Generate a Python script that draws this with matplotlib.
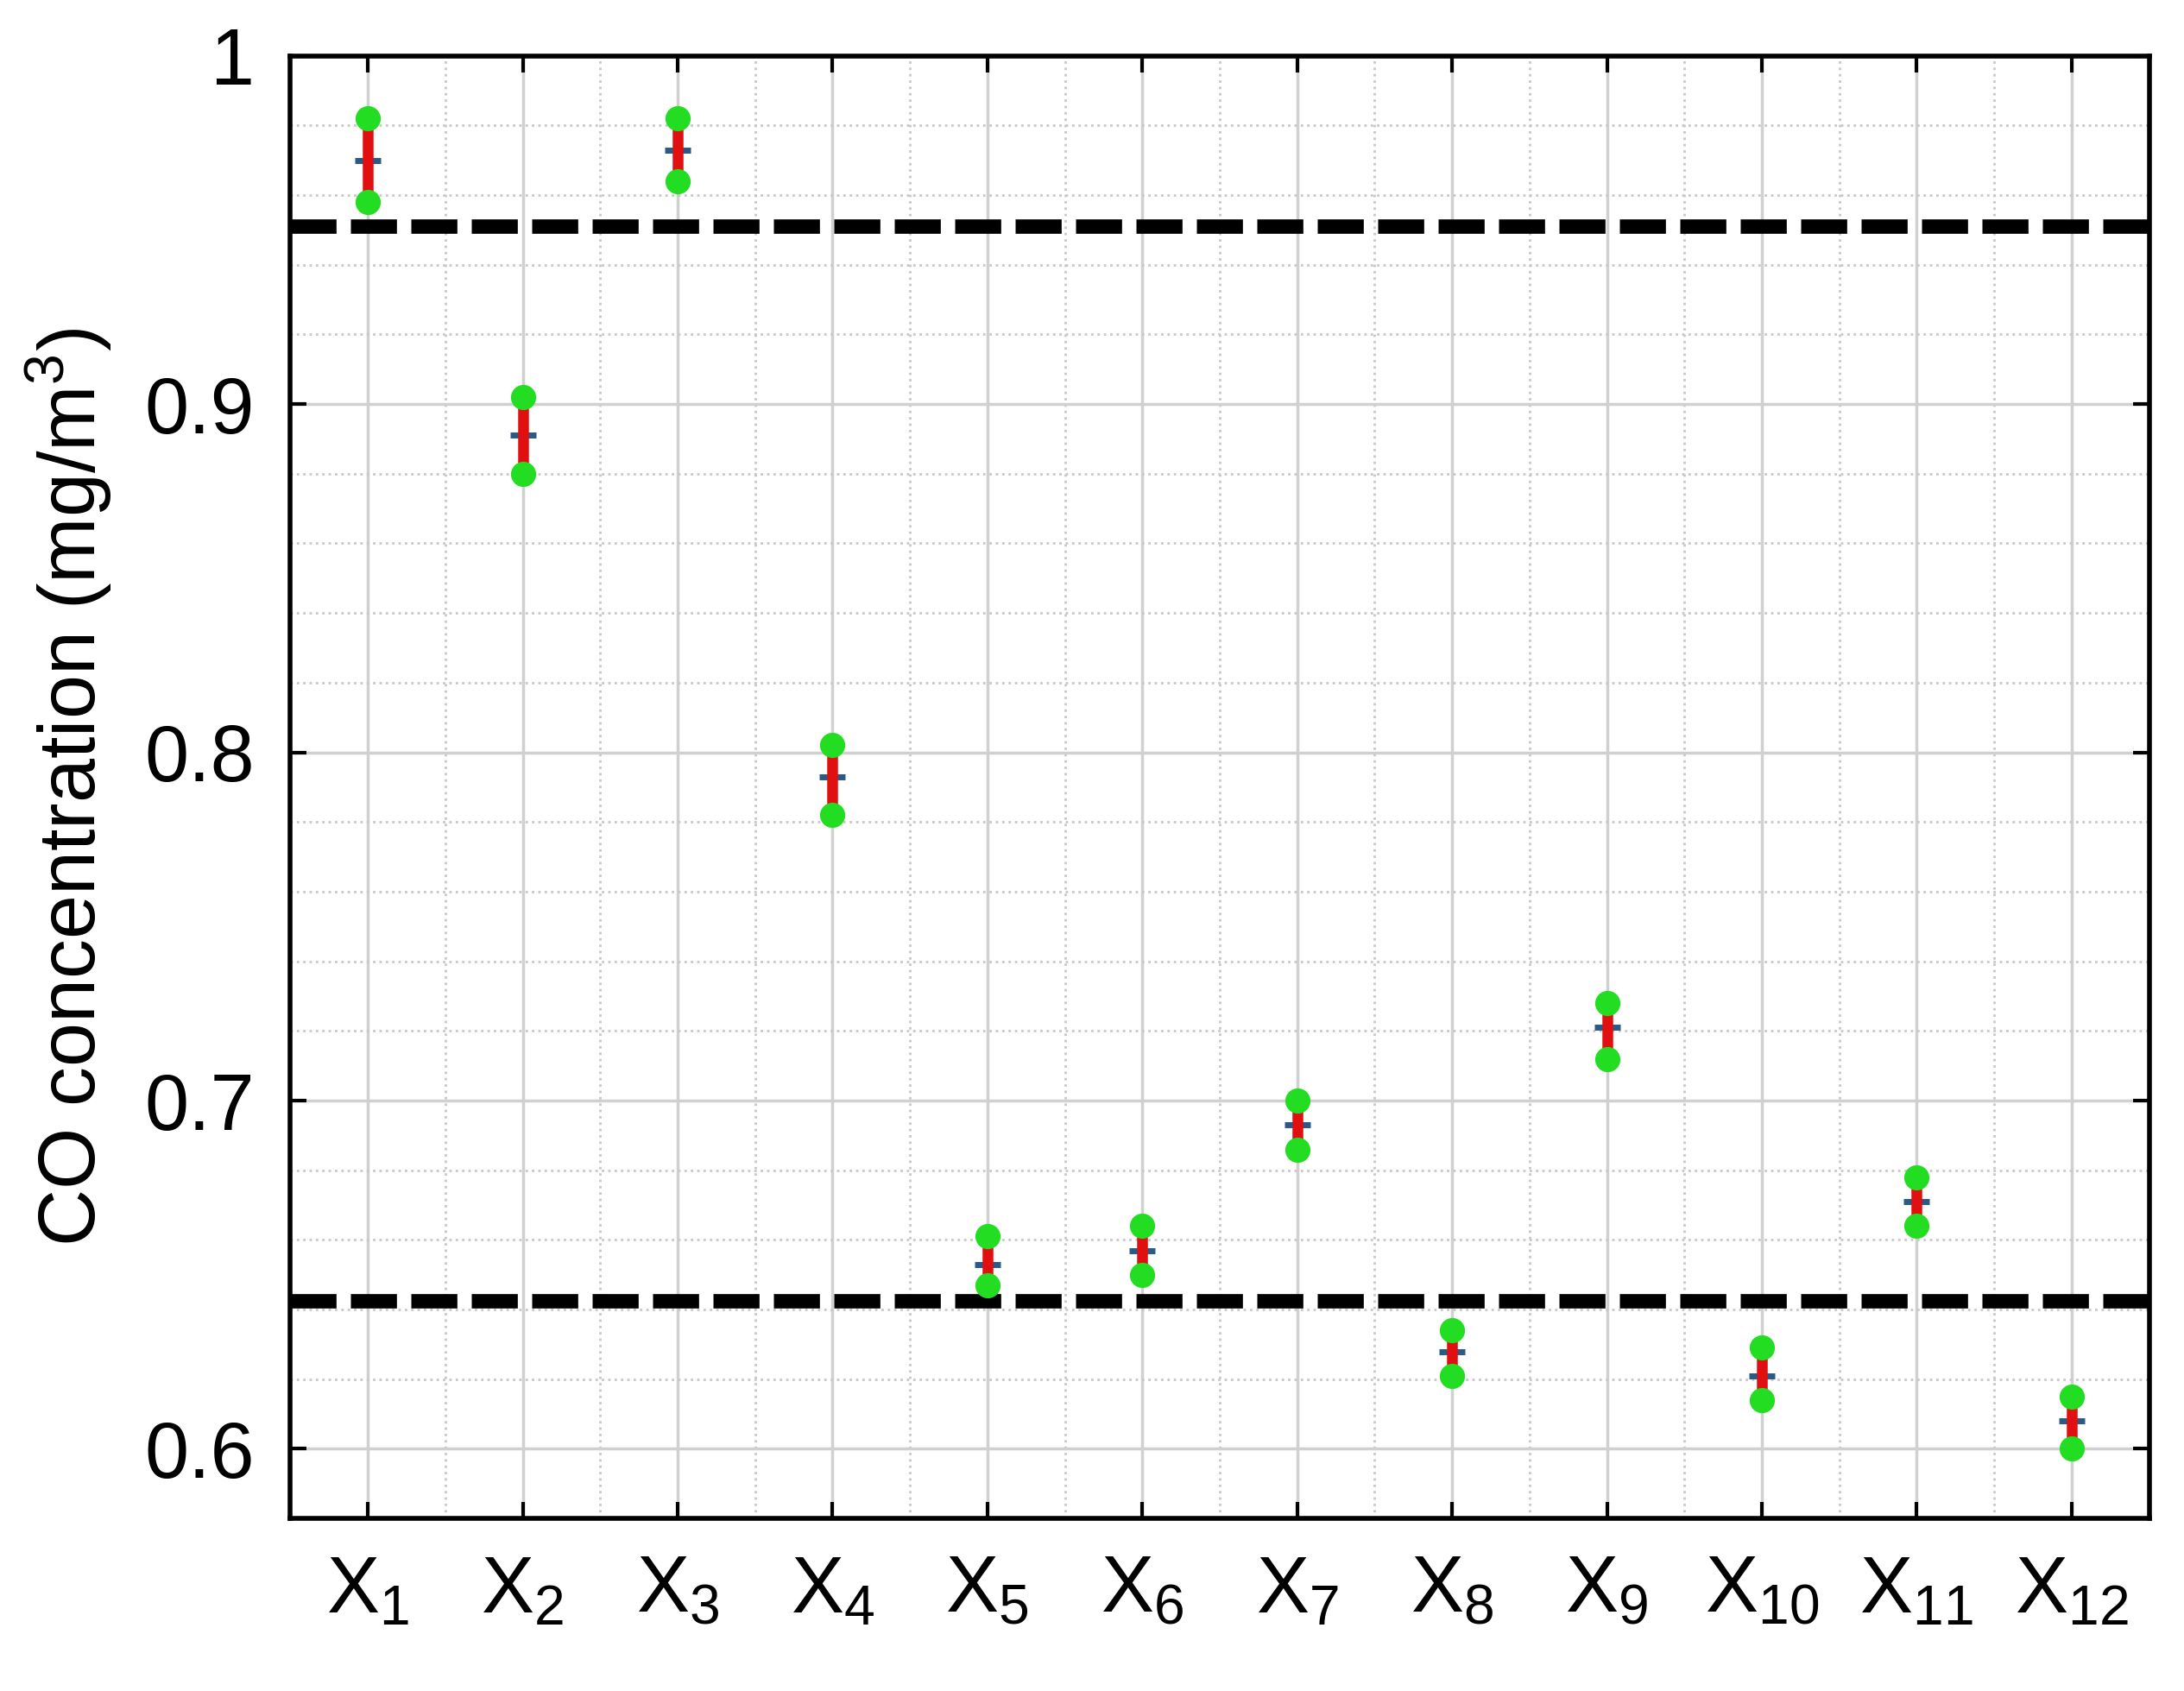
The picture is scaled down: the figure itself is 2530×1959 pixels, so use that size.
import numpy as np
import matplotlib
matplotlib.use('Agg')
import matplotlib.pyplot as plt
from matplotlib.ticker import MultipleLocator

plt.rcParams['font.family'] = ['Liberation Sans', 'DejaVu Sans']
plt.rcParams['mathtext.fontset'] = 'custom'
plt.rcParams['mathtext.rm'] = 'Liberation Sans'

labels = ['$\\mathregular{X_{%d}}$' % i for i in range(1, 13)]
mean = [0.970, 0.891, 0.973, 0.793, 0.653, 0.657, 0.693, 0.628, 0.721, 0.621, 0.671, 0.608]
upper = [0.982, 0.902, 0.982, 0.802, 0.661, 0.664, 0.700, 0.634, 0.728, 0.629, 0.678, 0.615]
lower = [0.958, 0.880, 0.964, 0.782, 0.647, 0.650, 0.686, 0.621, 0.712, 0.614, 0.664, 0.600]
limit_hi = 0.951
limit_lo = 0.6425

x = np.arange(1, 13)
fig = plt.figure(figsize=(25.3, 19.59), dpi=100)
ax = fig.add_axes([0.133, 0.102, 0.851, 0.865])

ax.axhline(limit_hi, color='black', lw=12, ls=(0, (3.2, 1.0)), zorder=2)
ax.axhline(limit_lo, color='black', lw=12, ls=(0, (3.2, 1.0)), zorder=2)
ax.plot(x, mean, '+', color='#2a5a8a', ms=22, mew=5, zorder=3)
ax.vlines(x, lower, upper, color='#e01010', lw=9, zorder=4)
ax.plot(x, lower, 'o', color='#22dd22', ms=20, zorder=5)
ax.plot(x, upper, 'o', color='#22dd22', ms=20, zorder=5)

ax.set_xlim(0.5, 12.5)
ax.set_ylim(0.58, 1.0)
ax.set_xticks(x)
ax.set_xticklabels(labels)
ax.xaxis.set_minor_locator(MultipleLocator(0.5))
ax.yaxis.set_minor_locator(MultipleLocator(0.02))
ax.set_yticks([0.6, 0.7, 0.8, 0.9, 1.0])
ax.set_yticklabels(['0.6', '0.7', '0.8', '0.9', '1'])
ax.grid(which='major', color='#d0d0d0', lw=2.5)
ax.grid(which='minor', color='#c8c8c8', lw=2, ls=':')
ax.tick_params(which='both', direction='in', top=True, right=True, labelsize=66, width=3, length=14, pad=30)
ax.tick_params(which='minor', length=0)
for s in ax.spines.values():
    s.set_linewidth(4)
ax.set_ylabel('CO concentration (mg/m$^3$)', fontsize=66, labelpad=25)

fig.savefig('out.png', dpi=100)
